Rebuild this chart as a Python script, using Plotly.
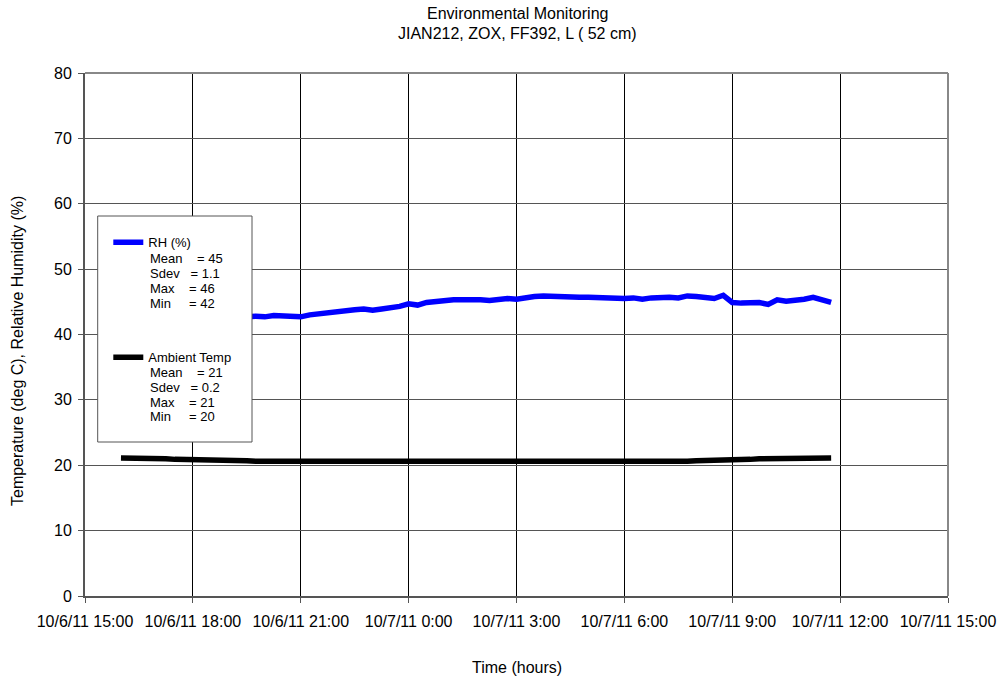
import pandas as pd
import plotly.graph_objects as go

# 15-minute readings starting 10/6/11 16:00
start_time = "2011-10-06 16:00"
rh_values = [
    42.3, 42.2, 42.4, 42.3,   # 16
    42.5, 42.4, 42.6, 42.5,   # 17
    42.6, 42.7, 42.6, 42.8,   # 18
    42.7, 42.8, 42.7, 42.8,   # 19
    42.7, 42.9, 42.8, 42.9,   # 20
    42.7, 43.0, 43.2, 43.3,   # 21
    43.5, 43.6, 43.8, 43.9,   # 22
    43.7, 43.9, 44.0, 44.3,   # 23
    44.7, 44.5, 44.9, 45.1,   # 0
    45.2, 45.3, 45.3, 45.4,   # 1
    45.3, 45.2, 45.4, 45.5,   # 2
    45.4, 45.7, 45.8, 45.9,   # 3
    45.8, 45.9, 45.8, 45.7,   # 4
    45.7, 45.6, 45.5, 45.6,   # 5
    45.5, 45.6, 45.4, 45.6,   # 6
    45.7, 45.7, 45.6, 45.9,   # 7
    45.8, 45.6, 45.5, 46.0,   # 8
    44.9, 44.8, 44.9, 44.9,   # 9
    44.6, 45.3, 45.1, 45.2,   # 10
    45.4, 45.7, 45.3, 44.9,   # 11
]
temp_values = [
    21.1, 21.1, 21.2, 21.1,   # 16
    21.0, 21.0, 20.9, 20.9,   # 17
    20.8, 20.8, 20.8, 20.7,   # 18
    20.7, 20.7, 20.7, 20.6,   # 19
    20.7, 20.6, 20.6, 20.6,   # 20
    20.6, 20.5, 20.5, 20.5,   # 21
    20.5, 20.5, 20.5, 20.4,   # 22
    20.5, 20.5, 20.4, 20.4,   # 23
    20.5, 20.4, 20.5, 20.4,   # 0
    20.4, 20.5, 20.4, 20.4,   # 1
    20.5, 20.4, 20.4, 20.5,   # 2
    20.5, 20.4, 20.5, 20.4,   # 3
    20.4, 20.4, 20.5, 20.4,   # 4
    20.4, 20.4, 20.5, 20.4,   # 5
    20.4, 20.4, 20.4, 20.4,   # 6
    20.4, 20.4, 20.4, 20.6,   # 7
    20.7, 20.7, 20.8, 20.8,   # 8
    20.8, 20.9, 20.9, 21.0,   # 9
    21.0, 21.0, 21.1, 21.2,   # 10
    21.2, 21.2, 21.2, 21.1,   # 11
]
series_names = ["RH (%)", "Ambient Temp"]
stat_names = ["Mean", "Sdev", "Max", "Min"]
rh_stats = ["45", "1.1", "46", "42"]
temp_stats = ["21", "0.2", "21", "20"]
title_lines = ["Environmental Monitoring", "JIAN212, ZOX, FF392, L ( 52 cm)"]
x_range = ["2011-10-06 15:00", "2011-10-07 15:00"]
y_range = [0, 80]

times = pd.date_range(start_time, periods=len(rh_values), freq="15min")

fig = go.Figure()
fig.add_trace(go.Scatter(x=times, y=rh_values, mode="lines", name=series_names[0],
                         legendgroup="rh",
                         line=dict(color="#0000FF", width=5.5)))
fig.add_trace(go.Scatter(x=times, y=temp_values, mode="lines", name=series_names[1],
                         legendgroup="t",
                         line=dict(color="#000000", width=5.5)))

font_family = "Liberation Sans, Arial, sans-serif"
fig.update_layout(
    width=1005, height=682,
    margin=dict(l=85, r=57, t=73, b=86),
    paper_bgcolor="white", plot_bgcolor="white",
    font=dict(family=font_family, size=16, color="black"),
    legend=dict(x=0.027, y=0.705, xanchor="left", yanchor="top",
                bgcolor="rgba(0,0,0,0)", borderwidth=0,
                font=dict(size=13), valign="top", tracegroupgap=95,
                itemwidth=30),
    showlegend=True,
)
fig.update_xaxes(
    range=x_range, type="date", dtick=3 * 3600 * 1000, tick0="2011-10-06 15:00",
    tickformat="%-m/%-d/%y %-H:%M", tickangle=0, automargin=False,
    showgrid=True, gridcolor="#000000", gridwidth=1,
    showline=True, linecolor="#555555", linewidth=2,
    ticks="outside", ticklen=5, tickcolor="#555555",
    ticklabelstandoff=5,
    zeroline=False,
)
fig.update_yaxes(
    range=y_range, dtick=10, automargin=False,
    showgrid=True, gridcolor="#555555", gridwidth=1,
    showline=True, linecolor="#555555", linewidth=2,
    ticks="outside", ticklen=5, tickcolor="#555555",
    ticklabelstandoff=3,
    zeroline=False,
)

# plot-area pixel helpers for text placement
PL, PW, PB, PH = 85, 863, 596, 523
def px(x):
    return (x - PL) / PW
def py(y):
    return (PB - y) / PH

# title
for line, ypix in zip(title_lines, [14, 33]):
    fig.add_annotation(text=line, xref="paper", yref="paper", x=px(517), y=py(ypix),
                       xanchor="center", yanchor="middle", showarrow=False,
                       font=dict(size=16))
# axis titles
fig.add_annotation(text="Time (hours)", xref="paper", yref="paper",
                   x=0.5, y=py(667), xanchor="center", yanchor="middle",
                   showarrow=False, font=dict(size=16))
fig.add_annotation(text="Temperature (deg C), Relative Humidity (%)",
                   xref="paper", yref="paper", x=px(18), y=py(351),
                   xanchor="center", yanchor="middle", textangle=-90,
                   showarrow=False, font=dict(size=16))
# top/right frame
fig.add_shape(type="line", xref="paper", yref="paper", x0=0, x1=1, y0=1, y1=1,
              line=dict(color="#888888", width=2))
fig.add_shape(type="line", xref="paper", yref="paper", x0=1, x1=1, y0=0, y1=1,
              line=dict(color="#888888", width=2))
# legend box
fig.add_shape(type="rect", xref="paper", yref="paper",
              x0=px(97.7), x1=px(252), y0=py(442), y1=py(216), layer="above",
              fillcolor="white", line=dict(color="#555555", width=1))
# legend statistics lines
NB = "\u00a0"
pads = [4, 3, 4, 5]
for stats, y0 in [(rh_stats, 258), (temp_stats, 372)]:
    for i, (nm, val) in enumerate(zip(stat_names, stats)):
        fig.add_annotation(text=nm + NB * pads[i] + "= " + val,
                           xref="paper", yref="paper",
                           x=px(148), y=py(y0 + 15 * i),
                           xanchor="left", yanchor="middle", showarrow=False,
                           font=dict(size=13))

fig.write_html("out.html", config={"displayModeBar": False},
               post_script="document.body.style.margin='0';")
